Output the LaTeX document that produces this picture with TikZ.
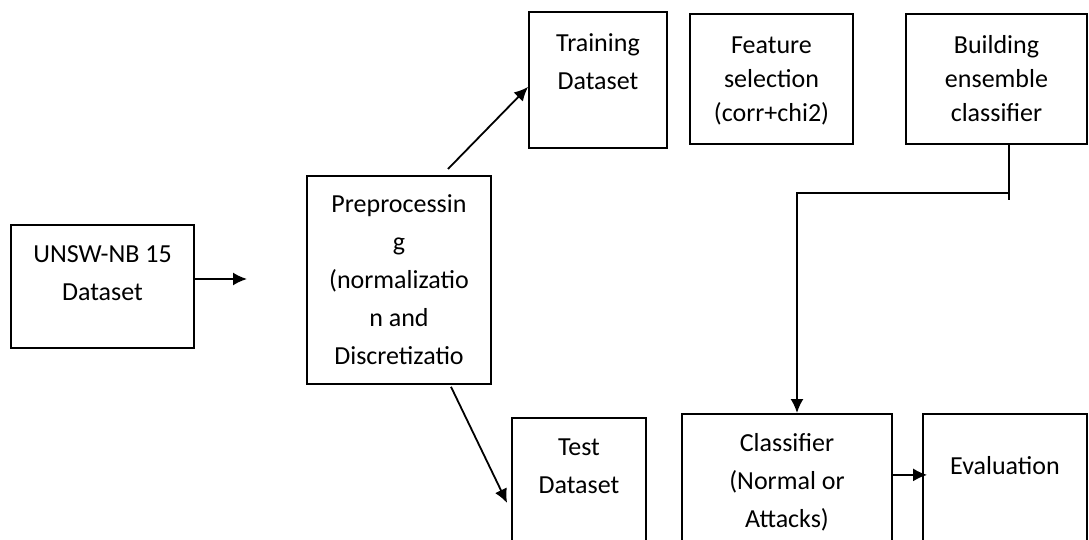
\documentclass[tikz,border=0pt]{standalone}
\usepackage{fontspec}
\setmainfont{Carlito}
\usetikzlibrary{arrows.meta,positioning}

\begin{document}
\begin{tikzpicture}[x=0.5pt, y=-0.5pt, line width=0.9pt,
    every node/.style={font=\fontsize{13}{19}\selectfont},
    box/.style={draw, anchor=north, inner xsep=2pt, inner ysep=0pt,
                align=center, text depth=80pt},
    tight/.style={font=\fontsize{13}{17}\selectfont},
    >={Latex[length=7pt,width=6.5pt]}]
  \clip (0,0) rectangle (1089,540);

  % input and preprocessing
  \node[box, minimum width=91.5pt, text height=38pt, text depth=23.5pt] (data) at (102.5,224)
       {UNSW-NB 15\\Dataset};
  \node[box, minimum width=92pt, text height=94.5pt, text depth=9.5pt] (prep) at (399,175)
       {Preprocessin\\g\\(normalizatio\\n and\\Discretizatio};

  % top row
  \node[box, minimum width=69pt, text height=39pt, text depth=29pt] (train) at (598,11)
       {Training\\Dataset};
  \node[box, tight, minimum width=81.5pt, text height=54pt, text depth=11pt] (feat) at (771.5,13)
       {Feature\\selection\\(corr+chi2)};
  \node[box, tight, minimum width=90.5pt, text height=54pt, text depth=11pt] (build) at (996.5,13)
       {Building\\ensemble\\classifier};

  % bottom row
  \node[box, minimum width=67pt, text height=38pt] (test) at (579,417) {Test\\Dataset};
  \node[box, minimum width=105pt, text height=57pt] (clf) at (787,413)
       {Classifier\\(Normal or\\Attacks)};
  \node[box, minimum width=82pt, text height=30.5pt] (eval) at (1005,413) {Evaluation};

  \coordinate (gap)  at (247,279);
  \coordinate (tick) at (1009,200);
  \coordinate (knee) at (797,193);

  \draw[->] (gap -| data.east) -- (gap);
  \draw[->] ([shift={(49,-6)}]prep.north) -- ([yshift=-3.5pt]train.west);
  \draw[->] ([shift={(52,2)}]prep.south) -- ([shift={(-4,86)}]test.north west);
  \draw (build.south -| tick) -- (tick);
  \draw[->] (tick |- knee) -- (knee) -- (clf.north -| knee);
  \draw[->] (clf.east |- eval.text) -- ([xshift=2.5pt]eval.west |- eval.text);
\end{tikzpicture}
\end{document}
